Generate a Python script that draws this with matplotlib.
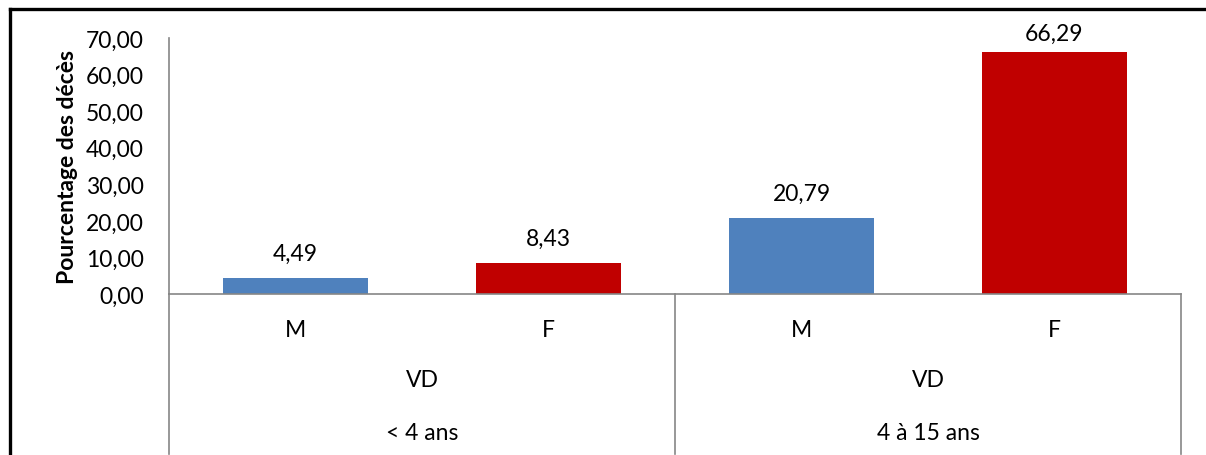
import matplotlib
matplotlib.use('Agg')
import matplotlib.pyplot as plt
from matplotlib.lines import Line2D
from matplotlib.ticker import FuncFormatter
import matplotlib.transforms as mtransforms

# data
sexes = ['M', 'F', 'M', 'F']
groups = ['VD', 'VD']
ages = ['< 4 ans', '4 à 15 ans']
values = [4.49, 8.43, 20.79, 66.29]
colors = ['#4F81BD', '#C00000', '#4F81BD', '#C00000']

plt.rcParams['font.family'] = ['Lato', 'DejaVu Sans']
FS = 16.5

fig = plt.figure(figsize=(12.06, 4.56), dpi=100)
ax = fig.add_axes([169 / 1206, 1 - 295 / 456, (1181 - 169) / 1206, (295 - 39) / 456])

x = list(range(len(values)))
ax.bar(x, values, width=0.575, color=colors)
for xi, v in zip(x, values):
    # labels sit above the bar, pushed down a bit near the top like excel does
    ax.text(xi, min(v + 4.9, 69.6), '{:.2f}'.format(v).replace('.', ','),
            ha='center', va='baseline', fontsize=FS)

ax.set_xlim(-0.5, len(values) - 0.5)
ax.set_ylim(0, 70)
ax.set_yticks(range(0, 71, 10))
ax.yaxis.set_major_formatter(FuncFormatter(lambda v, p: '{:.2f}'.format(v).replace('.', ',')))
ax.tick_params(axis='y', length=0, labelsize=FS, pad=18)
ax.set_xticks([])

for s in ['top', 'right']:
    ax.spines[s].set_visible(False)
for s in ['left', 'bottom']:
    ax.spines[s].set_color('#868686')
    ax.spines[s].set_linewidth(1.2)

ax.set_ylabel('Pourcentage des décès', fontsize=FS, fontweight='bold', labelpad=6)

# multi-level category axis
trans = mtransforms.blended_transform_factory(ax.transData, ax.transAxes)
px = 1 / 256.0  # axes fraction per pixel
for xi, s in zip(x, sexes):
    ax.text(xi, -36 * px, s, transform=trans, ha='center', va='center', fontsize=FS)
for gi, (g, a) in enumerate(zip(groups, ages)):
    xc = gi * 2 + 0.5
    ax.text(xc, -86 * px, g, transform=trans, ha='center', va='center', fontsize=FS)
    ax.text(xc, -139 * px, a, transform=trans, ha='center', va='center', fontsize=FS)
for xs in [-0.5, 1.5, 3.5]:
    ax.plot([xs, xs], [0, -160 * px], transform=trans, color='#868686',
            lw=1.2, clip_on=False)

# outer frame (left and top only visible)
fig.add_artist(Line2D([10 / 1206, 10 / 1206], [0, 1 - 10 / 456], color='black', lw=2.4))
fig.add_artist(Line2D([10 / 1206, 1], [1 - 10 / 456, 1 - 10 / 456], color='black', lw=2.4))

fig.savefig('out.png', dpi=100)
